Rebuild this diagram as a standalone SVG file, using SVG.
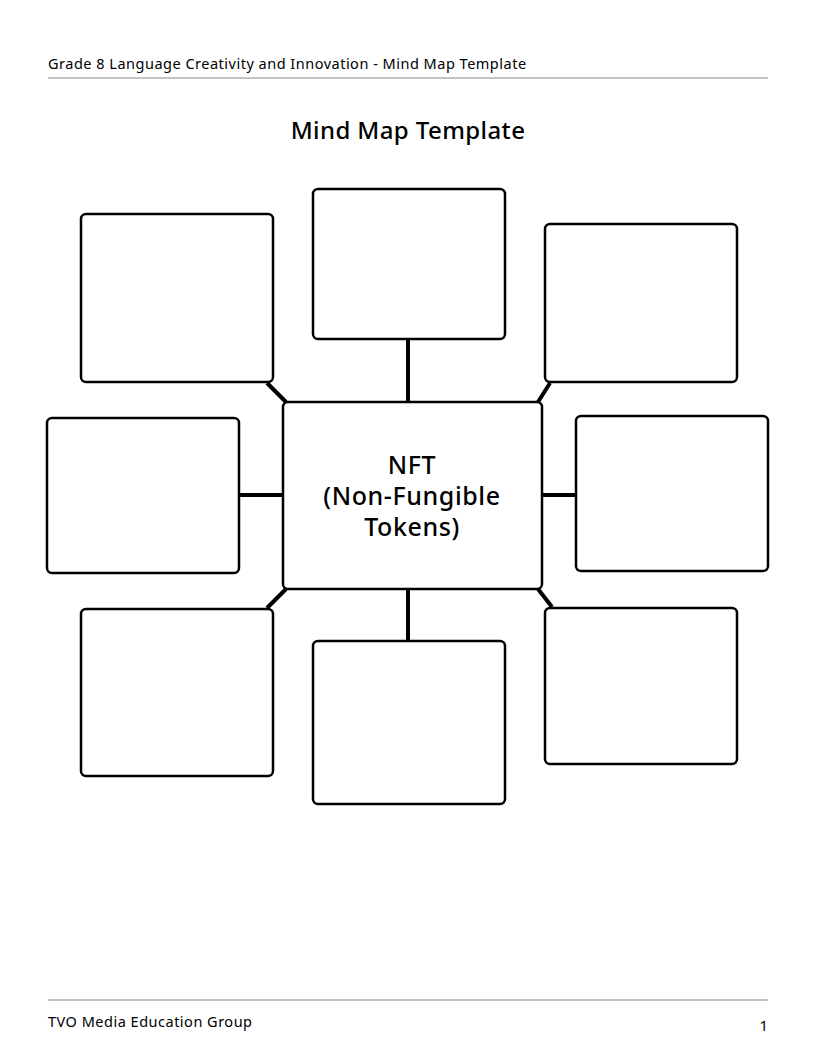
<svg xmlns="http://www.w3.org/2000/svg" width="816" height="1056" viewBox="0 0 816 1056">
<style>
.box{fill:#fff;stroke:#000;stroke-width:2.5}
.c{stroke:#000;stroke-width:4;fill:none}
text{font-family:"Noto Sans","Liberation Sans",sans-serif;fill:#000}
.ctr{font-size:25px;font-weight:500;text-anchor:middle}
</style>
<rect width="816" height="1056" fill="#fff"/>
<text x="48" y="69" font-size="14.5" letter-spacing="0.5" fill="#222">Grade 8 Language Creativity and Innovation - Mind Map Template</text>
<line x1="48" y1="78" x2="768" y2="78" stroke="#888" stroke-width="1"/>
<text x="408" y="139" font-size="24" font-weight="500" letter-spacing="0.4" text-anchor="middle">Mind Map Template</text>
<g id="connectors">
<line class="c" x1="408" y1="339" x2="408" y2="402"/>
<line class="c" x1="408" y1="589" x2="408" y2="641"/>
<line class="c" x1="239" y1="495" x2="283" y2="495"/>
<line class="c" x1="542" y1="495" x2="576" y2="495"/>
<line class="c" x1="267" y1="383" x2="286" y2="402"/>
<line class="c" x1="550" y1="383" x2="538" y2="402"/>
<line class="c" x1="286" y1="589" x2="267" y2="608"/>
<line class="c" x1="538" y1="589" x2="552" y2="607"/>
</g>
<g id="tl"><rect class="box" x="81" y="214" width="192" height="168" rx="5"/></g>
<g id="top"><rect class="box" x="313" y="189" width="192" height="150" rx="5"/></g>
<g id="tr"><rect class="box" x="545" y="224" width="192" height="158" rx="5"/></g>
<g id="left"><rect class="box" x="47" y="418" width="192" height="155" rx="5"/></g>
<g id="right"><rect class="box" x="576" y="416" width="192" height="155" rx="5"/></g>
<g id="bl"><rect class="box" x="81" y="609" width="192" height="167" rx="5"/></g>
<g id="bottom"><rect class="box" x="313" y="641" width="192" height="163" rx="5"/></g>
<g id="br"><rect class="box" x="545" y="608" width="192" height="156" rx="5"/></g>
<g id="center"><rect class="box" x="283" y="402" width="259" height="187" rx="5"/>
<text class="ctr" x="412" y="474" letter-spacing="0.6">NFT</text>
<text class="ctr" x="412" y="505" letter-spacing="0.6">(Non-Fungible</text>
<text class="ctr" x="412" y="536" letter-spacing="0.6">Tokens)</text></g>
<line x1="48" y1="1000" x2="768" y2="1000" stroke="#888" stroke-width="1"/>
<text x="48" y="1027" font-size="14.5" letter-spacing="0.5" fill="#222">TVO Media Education Group</text>
<text x="768" y="1031" font-size="15" text-anchor="end" fill="#222">1</text>
</svg>
